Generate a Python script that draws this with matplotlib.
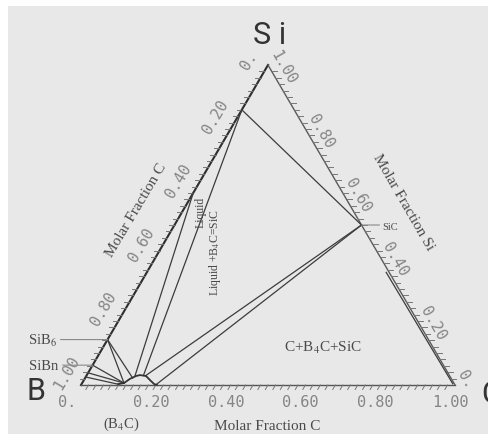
import numpy as np
import matplotlib.pyplot as plt
from matplotlib.patches import Rectangle

plt.rcParams['mathtext.fontset'] = 'stix'

# =============================================================================
#  Diagram data, compositions given as (C fraction, Si fraction)
# =============================================================================

tick_vals = [0.0, 0.2, 0.4, 0.6, 0.8, 1.0]
bottom_labels = ['0.', '0.20', '0.40', '0.60', '0.80', '1.00']
left_labels = ['1.00', '0.80', '0.60', '0.40', '0.20', '0.']
right_labels = ['0.', '0.20', '0.40', '0.60', '0.80', '1.00']
minor_step = 0.02

# compounds
sib6 = (0.0, 0.142)
sibn = (0.0, 0.062)
sic = (0.5, 0.5)

# B4C homogeneity dome on the B-C edge
dome_c = [0.098, 0.112, 0.121, 0.133, 0.142, 0.160, 0.176, 0.194, 0.203]
dome_si = [0.003, 0.006, 0.019, 0.028, 0.031, 0.028, 0.016, 0.003, 0.0]

# tie lines (c0, si0, c1, si1)
tie_lines = [
    (0.0, 0.860, 0.5, 0.5),        # liquid corner to SiC
    (0.0, 0.860, 0.152, 0.030),    # liquid boundary
    (0.0, 0.600, 0.130, 0.029),    # liquid boundary
    (0.5, 0.5, 0.158, 0.029),      # B4C + SiC
    (0.5, 0.5, 0.200, 0.001),      # B4C + SiC
    (0.0, 0.142, 0.112, 0.006),    # SiB6 fan
    (0.0, 0.142, 0.127, 0.022),
    (0.0, 0.062, 0.112, 0.006),    # SiBn fan
    (0.0, 0.038, 0.112, 0.006),
    (0.0, 0.025, 0.100, 0.002),
    (0.992, 0.004, 0.640, 0.352),  # narrow band along Si-C edge
]


def tern(c, s):
    c = np.asarray(c, dtype=float)
    s = np.asarray(s, dtype=float)
    return c + 0.5 * s, s * np.sqrt(3) / 2


fig = plt.figure(figsize=(4.88, 4.39), dpi=100)
fig.patch.set_facecolor('white')

ax = fig.add_axes([0, 0, 1, 1])
ax.set_xlim(-81 / 374, 407 / 374)
ax.set_ylim(-53 / 369.5, 386 / 369.5)
ax.axis('off')
ax.add_patch(Rectangle((8 / 488, 4 / 439), 480 / 488, 428 / 439,
                       transform=fig.transFigure, facecolor='#e8e8e8',
                       edgecolor='none', zorder=-10, clip_on=False))

# triangle edges
bx, by = tern(0, 0)
cx, cy = tern(1, 0)
sx, sy = tern(0, 1)
ax.plot([bx, sx], [by, sy], color='#2e2e2e', lw=1.5)
ax.plot([bx, cx], [by, cy], color='#555555', lw=1.0)
ax.plot([sx, cx], [sy, cy], color='#5a5a5a', lw=1.0)

# minor ticks
tl = 0.014
for v in np.arange(minor_step, 1.0, minor_step):
    x, y = tern(v, 0)
    ax.plot([x, x - 0.5 * tl], [y, y - 0.866 * tl], color='#777777', lw=0.7)
    x, y = tern(0, v)
    ax.plot([x, x - tl], [y, y], color='#777777', lw=0.7)
    x, y = tern(1 - v, v)
    ax.plot([x, x + tl], [y, y], color='#777777', lw=0.7)

tick_font = dict(family='DejaVu Sans Mono', fontsize=11, color='#858585')
for v, lab in zip(tick_vals, bottom_labels):
    ax.annotate(lab, tern(v, 0), xytext=(-23, -17), textcoords='offset pixels',
                ha='left', va='center', **tick_font)
for v, lab in zip(tick_vals, left_labels):
    ax.annotate(lab, tern(0, v), xytext=(-24, -3), textcoords='offset pixels',
                ha='left', va='center', rotation=59.3, rotation_mode='anchor',
                **tick_font)
for v, lab in zip(tick_vals, right_labels):
    ax.annotate(lab, tern(1 - v, v), xytext=(6, 14), textcoords='offset pixels',
                ha='left', va='center', rotation=-60, rotation_mode='anchor',
                **tick_font)

# phase boundaries
line_kw = dict(color='#3c3c3c', lw=0.9)
for c0, s0, c1, s1 in tie_lines:
    x, y = tern([c0, c1], [s0, s1])
    ax.plot(x, y, **line_kw)
x, y = tern(dome_c, dome_si)
ax.plot(x, y, color='#333333', lw=1.3)

# leaders for compound labels
for pt, dx in [(sib6, -47), (sibn, -30), (sic, 18)]:
    ax.annotate('', tern(*pt), xytext=(dx, 0), textcoords='offset pixels',
                arrowprops=dict(arrowstyle='-', color='#8a8a8a', lw=0.8,
                                shrinkA=0, shrinkB=0))

# text
serif = dict(family='Liberation Serif', color='#4a4a4a')
big = dict(family=['Roboto', 'DejaVu Sans'], color='#333333', fontsize=22)


def px(x, y):
    # pixel position (from top-left) to figure coords
    return x / 488, 1 - y / 439


fig.text(*px(270, 36), 'S i', ha='center', va='center', **big)
fig.text(*px(36, 392), 'B', ha='center', va='center', **big)
fig.text(*px(481, 395), 'C', ha='left', va='center', **big)

fig.text(*px(267, 427), 'Molar Fraction C', ha='center', va='center',
         fontsize=11, **serif)
fig.text(*px(136, 210), 'Molar Fraction C', ha='center', va='center',
         rotation=59.3, fontsize=11, **serif)
fig.text(*px(403, 202), 'Molar Fraction Si', ha='center', va='center',
         rotation=-60, fontsize=11, **serif)

fig.text(*px(201, 212), 'Liquid', ha='center', va='center', rotation=90,
         fontsize=8.5, **serif)
fig.text(*px(215, 253), r'Liquid +B$_4$C=SiC', ha='center', va='center',
         rotation=90, fontsize=8.5, **serif)
fig.text(*px(323, 348), r'C+B$_4$C+SiC', ha='center', va='center',
         fontsize=11, **serif)
fig.text(*px(382, 228), 'SiC', ha='left', va='center', fontsize=7.5, **serif)
fig.text(*px(28, 341), r'SiB$_6$', ha='left', va='center', fontsize=10.5,
         **serif)
fig.text(*px(29, 366), 'SiBn', ha='left', va='center', fontsize=10.5, **serif)
fig.text(*px(121, 424), r'(B$_4$C)', ha='center', va='center', fontsize=10.5,
         **serif)

fig.savefig('out.png', dpi=100, facecolor=fig.get_facecolor())
